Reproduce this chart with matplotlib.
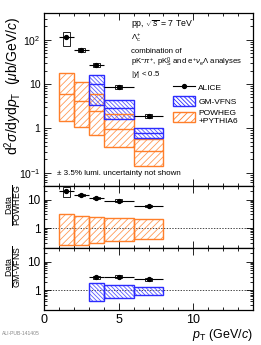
import numpy as np
import matplotlib.pyplot as plt
from matplotlib.lines import Line2D
from matplotlib.patches import Patch
from matplotlib.ticker import LogLocator, MultipleLocator, NullFormatter

plt.rcParams['font.family'] = ['Liberation Sans', 'DejaVu Sans']
plt.rcParams['mathtext.fontset'] = 'custom'
plt.rcParams['mathtext.rm'] = 'Liberation Sans'
plt.rcParams['mathtext.it'] = 'Liberation Sans:italic'
plt.rcParams['mathtext.sf'] = 'Liberation Sans'
plt.rcParams['hatch.linewidth'] = 0.6

# ALICE Lambda_c+ cross section, pp 7 TeV
bin_lo = [1, 2, 3, 4, 6]
bin_hi = [2, 3, 4, 6, 8]
pt = [1.5, 2.5, 3.5, 5.0, 7.0]
xs = [113, 58, 27, 8.5, 1.87]
xs_stat = [10, 5, 2.0, 0.6, 0.15]
xs_sys_lo = [73, 52, 24.3, 7.7, 1.68]
xs_sys_hi = [146, 64, 30, 9.4, 2.06]

# POWHEG+PYTHIA6 (orange)
pow_lo = [1.5, 1.08, 0.69, 0.37, 0.14]
pow_cen = [6.1, 4.1, 2.45, 0.98, 0.31]
pow_hi = [18, 11, 6.0, 2.1, 0.58]

# GM-VFNS (blue), from 3 GeV/c
gm_lo_edge = [3, 4, 6]
gm_hi_edge = [4, 6, 8]
gm_lo = [3.3, 1.6, 0.6]
gm_cen = [10.2, 2.9, 0.78]
gm_hi = [15.7, 4.3, 1.0]

# Data/POWHEG
r_pow = [19.8, 14.7, 11.5, 9.2, 6.0]
r_pow_stat = [2.0, 1.2, 0.8, 0.6, 0.5]
r_pow_sys_lo = [12.8, 13.2, 10.4, 8.4, 5.4]
r_pow_sys_hi = [27.5, 16.3, 12.7, 10.1, 6.7]
r_pow_band_lo = [0.25, 0.26, 0.31, 0.34, 0.43]
r_pow_band_hi = [3.1, 2.75, 2.4, 2.2, 2.05]

# Data/GM-VFNS
pt_gm = [3.5, 5.0, 7.0]
r_gm = [2.85, 3.0, 2.4]
r_gm_stat = [0.2, 0.2, 0.2]
r_gm_sys_lo = [2.55, 2.7, 2.15]
r_gm_sys_hi = [3.15, 3.3, 2.65]
r_gm_band_lo = [0.41, 0.55, 0.69]
r_gm_band_hi = [1.76, 1.48, 1.3]

orange = '#ff7f2a'
orange_h = '#ff9a55'
blue = '#2b2bff'
blue_h = '#5a5aff'
hatch_o = '/////'
hatch_b = '\\\\\\\\\\\\\\\\'

fig = plt.figure(figsize=(2.61, 3.45), dpi=100)
ax1 = fig.add_axes([0.1686, 0.4609, 0.801, 0.5014])
ax2 = fig.add_axes([0.1686, 0.2812, 0.801, 0.1797])
ax3 = fig.add_axes([0.1686, 0.1014, 0.801, 0.1797])


def band(ax, lo_edge, hi_edge, lo, hi, col, hcol, hatch, cen=None):
    left = np.array(lo_edge, float)
    w = np.array(hi_edge, float) - left
    lo = np.array(lo, float)
    hi = np.array(hi, float)
    ax.bar(left, hi - lo, bottom=lo, width=w, align='edge', facecolor='none',
           edgecolor=hcol, hatch=hatch, linewidth=0.01, zorder=2)
    ax.bar(left, hi - lo, bottom=lo, width=w, align='edge', facecolor='none',
           edgecolor=col, linewidth=1.0, zorder=3)
    if cen is not None:
        ax.hlines(cen, left, left + w, color=col, lw=1.0, zorder=3)


def data(ax, x, y, stat, slo, shi, xlo, xhi):
    x = np.array(x, float)
    ax.bar(x, np.array(shi) - np.array(slo), bottom=slo, width=0.44,
           facecolor='none', edgecolor='k', linewidth=0.6, zorder=4)
    xerr = [x - np.array(xlo), np.array(xhi) - x]
    ax.errorbar(x, y, yerr=stat, xerr=xerr, fmt='o', color='k', ms=2.8,
                lw=0.8, capsize=0, zorder=5)


# top panel
band(ax1, bin_lo, bin_hi, pow_lo, pow_hi, orange, orange_h, hatch_o, pow_cen)
band(ax1, gm_lo_edge, gm_hi_edge, gm_lo, gm_hi, blue, blue_h, hatch_b, gm_cen)
data(ax1, pt, xs, xs_stat, xs_sys_lo, xs_sys_hi, bin_lo, bin_hi)
ax1.set_yscale('log')
ax1.set_ylim(0.05, 400)
ax1.set_yticks([0.1, 1, 10, 100])
ax1.set_yticklabels(['$10^{-1}$', '1', '10', '$10^{2}$'])
ax1.set_ylabel(r'd$^{2}\sigma$/d$y$d$p_{\rm T}$  ($\mu$b/GeV/$c$)', fontsize=10)
ax1.yaxis.label.set_va('center')
ax1.yaxis.set_label_coords(-0.145, 0.58)

tx = 0.415
ax1.text(tx, 0.93, r'pp, $\sqrt{s}$ = 7 TeV', transform=ax1.transAxes, fontsize=6.3, va='center')
ax1.text(tx, 0.857, r'$\Lambda_{\rm c}^{+}$', transform=ax1.transAxes, fontsize=5.8, va='center')
ax1.text(tx, 0.778, 'combination of', transform=ax1.transAxes, fontsize=5.6, va='center')
ax1.text(tx, 0.714, r'pK$^{-}\pi^{+}$, pK$^{0}_{\rm S}$ and e$^{+}\nu_{\rm e}\Lambda$ analyses',
         transform=ax1.transAxes, fontsize=5.6, va='center')
ax1.text(tx, 0.645, r'|$y$| < 0.5', transform=ax1.transAxes, fontsize=5.6, va='center')
ax1.text(0.06, 0.075, '± 3.5% lumi. uncertainty not shown', transform=ax1.transAxes,
         fontsize=5.8, va='center')

handles = [
    Line2D([], [], color='k', marker='o', ms=2.8, lw=0.8),
    Patch(facecolor='none', edgecolor=blue, hatch=hatch_b, lw=1.0),
    Patch(facecolor='none', edgecolor=orange, hatch=hatch_o, lw=1.0),
]
ax1.legend(handles, ['ALICE', 'GM-VFNS', 'POWHEG\n+PYTHIA6'], loc='upper left',
           bbox_to_anchor=(0.615, 0.6), frameon=False, fontsize=6,
           handlelength=2.7, handleheight=1.5, borderpad=0, borderaxespad=0,
           labelspacing=0.45, handletextpad=0.4)

# middle panel
band(ax2, bin_lo, bin_hi, r_pow_band_lo, r_pow_band_hi, orange, orange_h, hatch_o)
data(ax2, pt, r_pow, r_pow_stat, r_pow_sys_lo, r_pow_sys_hi, bin_lo, bin_hi)
ax2.set_ylabel(r'$\dfrac{\rm Data}{\rm POWHEG}$', fontsize=6.3)

# bottom panel
band(ax3, gm_lo_edge, gm_hi_edge, r_gm_band_lo, r_gm_band_hi, blue, blue_h, hatch_b)
data(ax3, pt_gm, r_gm, r_gm_stat, r_gm_sys_lo, r_gm_sys_hi, gm_lo_edge, gm_hi_edge)
ax3.set_ylabel(r'$\dfrac{\rm Data}{\rm GM\text{-}VFNS}$', fontsize=6.3)

for ax in (ax2, ax3):
    ax.set_yscale('log')
    ax.set_ylim(0.2, 30)
    ax.set_yticks([1, 10])
    ax.set_yticklabels(['1', '10'])
    ax.axhline(1, color='k', lw=0.5, ls=(0, (2, 2)), zorder=1)
    ax.yaxis.label.set_va('center')
    ax.yaxis.set_label_coords(-0.145, 0.7)

for ax in (ax1, ax2, ax3):
    ax.set_xlim(0, 14)
    ax.xaxis.set_major_locator(MultipleLocator(5))
    ax.xaxis.set_minor_locator(MultipleLocator(1))
    ax.yaxis.set_minor_locator(LogLocator(subs=np.arange(2, 10)))
    ax.yaxis.set_minor_formatter(NullFormatter())
    ax.tick_params(which='both', direction='in', top=True, right=True, width=0.6)
    ax.tick_params(which='major', length=5, labelsize=8.5, pad=2.5)
    ax.tick_params(which='minor', length=2.5)
    for s in ax.spines.values():
        s.set_linewidth(0.9)
for ax in (ax1, ax2):
    ax.tick_params(labelbottom=False)
ax1.tick_params(axis='y', labelsize=7.5)

ax3.tick_params(axis='x', labelsize=9, pad=3)
ax3.set_xlabel(r'$p_{\rm T}$ (GeV/$c$)', fontsize=9, loc='right')
ax3.xaxis.set_label_coords(1.0, -0.27)

fig.text(0.008, 0.03, 'ALI-PUB-141405', fontsize=3.6, color='#888888')

fig.savefig('out.png', dpi=100)
